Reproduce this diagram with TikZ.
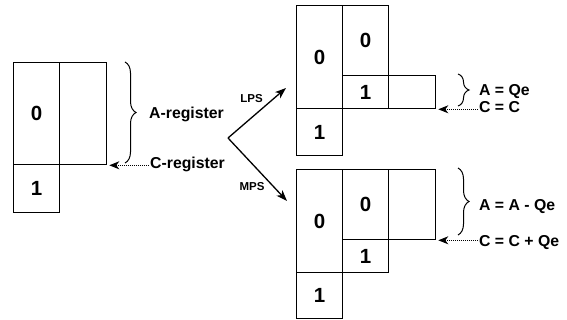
\documentclass[tikz,border=0pt]{standalone}
\usepackage{fontspec}
\setmainfont{Liberation Sans}[BoldFont={Liberation Sans Bold}]
\usetikzlibrary{arrows.meta,decorations.pathreplacing}
\begin{document}
\begin{tikzpicture}[x=1pt,y=-1pt,
  cell/.style={draw,line width=1.3pt,inner sep=0pt,anchor=north west,font=\fontsize{20.5}{21}\selectfont\bfseries},
  lbl/.style={inner sep=0pt,anchor=base west,font=\fontsize{15.8}{16}\selectfont\bfseries},
  small/.style={inner sep=0pt,font=\fontsize{11.5}{12}\selectfont\bfseries},
  brc/.style={decorate,decoration={brace,amplitude=11pt,aspect=0.5},line width=1pt},
  dotarrow/.style={line width=1pt,dash pattern=on 1pt off 1pt,-{Stealth[length=10pt,width=8pt,inset=3pt]},shorten >=2pt},
  mainarrow/.style={line width=1.3pt,-{Stealth[length=11pt,width=8pt,inset=3pt]}}]
\useasboundingbox (0,0) rectangle (567,320);
% left register
\node[cell,minimum width=46pt,minimum height=102pt] (L0) at (13,62) {0};
\node[cell,minimum width=47pt,minimum height=102pt] (Lr) at (59,62) {};
\node[cell,minimum width=46pt,minimum height=48pt] (L1) at (13,164) {1};
% top right (LPS)
\node[cell,minimum width=46pt,minimum height=103pt] (T0a) at (296,5) {0};
\node[cell,minimum width=46pt,minimum height=47pt] (T1a) at (296,108) {1};
\node[cell,minimum width=46pt,minimum height=70pt] (T0b) at (342,5) {0};
\node[cell,minimum width=46pt,minimum height=33pt] (T1b) at (342,75) {1};
\node[cell,minimum width=47pt,minimum height=33pt] (Tr) at (388,75) {};
% bottom right (MPS)
\node[cell,minimum width=46pt,minimum height=103pt] (B0a) at (296,169) {0};
\node[cell,minimum width=46pt,minimum height=46pt] (B1a) at (296,272) {1};
\node[cell,minimum width=46pt,minimum height=70pt] (B0b) at (342,169) {0};
\node[cell,minimum width=46pt,minimum height=33pt] (B1b) at (342,239) {1};
\node[cell,minimum width=47pt,minimum height=70pt] (Br) at (388,169) {};
% braces
\draw[brc] (125,62) -- (125,163);
\draw[brc] (458,74) -- (458,106);
\draw[brc] (458,168) -- (458,235);
% labels
\node[lbl] (Areg) at (149,119) {A-register};
\node[lbl] (Creg) at (150,169) {C-register};
\node[lbl] (AQe) at (479,96) {A = Qe};
\node[lbl] (CC) at (479,113) {C = C};
\node[lbl] (AAQe) at (479,210.5) {A = A - Qe};
\node[lbl] (CCQe) at (479,246.5) {C = C + Qe};
% dotted arrows
\draw[dotarrow] (Creg.west |- Lr.south east) ++(-1,0) coordinate (cs) (cs) -- (Lr.south east);
\draw[dotarrow] (CC.west |- Tr.south east) ++(-1,0) coordinate (ts) (ts) -- (Tr.south east);
\draw[dotarrow] (CCQe.west |- Br.south east) ++(-1,0) coordinate (bs) (bs) -- (Br.south east);
% split arrows
\coordinate (split) at (228,138);
\coordinate (lpsend) at (286,88);
\coordinate (mpsend) at (287,201);
\draw[mainarrow] (split) -- (lpsend);
\draw[mainarrow] (split) -- (mpsend);
\node[small] (LPS) at (251.5,99) {LPS};
\node[small] (MPS) at (252,187) {MPS};
\end{tikzpicture}
\end{document}
